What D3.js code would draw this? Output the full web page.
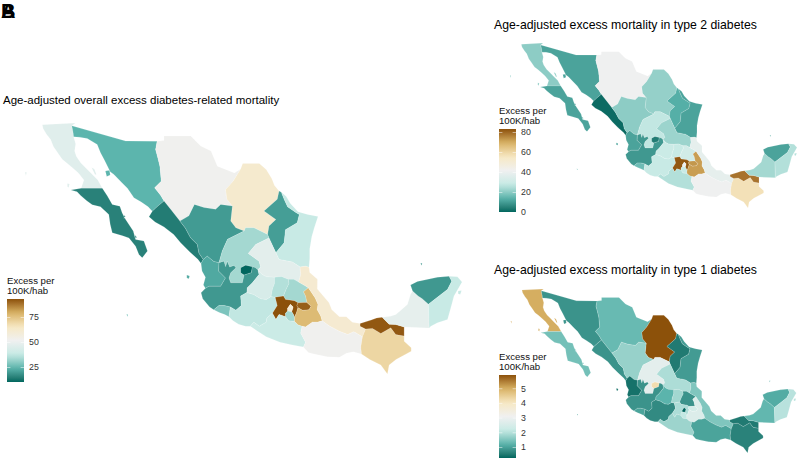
<!DOCTYPE html>
<html>
<head>
<meta charset="utf-8">
<script src="https://cdn.jsdelivr.net/npm/d3@7"></script>
<style>
body { margin: 0; background: #fff; }
svg { display: block; font-family: "Liberation Sans", Arial, sans-serif; }
.state { stroke: #fff; stroke-width: 0.15; }
.panel-title { fill: #000; }
.legend-title { font-size: 9.6px; fill: #111; }
.tick text { font-size: 8.8px; fill: #333; font-family: "Liberation Sans", Arial, sans-serif; }
</style>
</head>
<body>
<svg id="chart" width="800" height="460"></svg>
<script>
var stateCodes = ['BC', 'BCS', 'SON', 'CHI', 'COA', 'NL', 'TAM', 'SIN', 'DUR', 'ZAC', 'SLP', 'NAY', 'AGS', 'JAL', 'COL', 'MIC',
    'GTO', 'QRO', 'HID', 'MEX', 'CDMX', 'TLX', 'MOR', 'PUE', 'VER', 'GRO', 'OAX', 'CHP', 'TAB', 'CAM', 'YUC', 'QR'];

var overallExcess = [46, 15, 24, 52, 62, 20, 38, 14, 19.5, 33, 47, 22, 10, 19, 28, 37,
    43, 35, 33, 93, 60, 91, 33, 77, 61, 39, 52, 70, 92, 48, 19, 38];
var type2Excess = [20, 11, 11, 41, 21, 13, 11, 1, 20, 27, 22, 11, 4, 9, 16, 28,
    29, 28, 31, 82, 40, 73, 28, 72, 38, 25, 41, 57, 78, 23, 11, 25];
var type1Excess = [5.0, 1.4, 0.8, 1.3, 5.9, 0.5, 0.9, 0.8, 1.7, 2.8, 1.9, 0.4, 4.2, 0.8, 1.0, 0.7,
    1.2, 1.8, 0.8, 1.9, 0.25, 2.4, 2.1, 2.6, 1.5, 1.75, 1.0, 0.6, 0.5, 1.25, 1.1, 2.0];

var overallRange = [10, 93];
var type2Range = [0, 83];
var type1Range = [0.25, 5.9];
var overallTicks = [25, 50, 75];
var type2Ticks = [0, 20, 40, 60, 80];
var type1Ticks = [1, 2, 3, 4, 5];

// shared junctions of the state outlines, lon/lat
var J0 = [-114.98, 32.52], G1 = [-114.85, 31.72], B1 = [-114.3, 28.0], B2 = [-112.77, 28.0];
var J1 = [-108.8, 31.4], J2 = [-108.3, 27.07], S1 = [-109.15, 26.34], J3 = [-102.75, 29.4], J4 = [-103.35, 26.71];
var J5 = [-107.15, 25.62], J6 = [-105.62, 22.55], J7 = [-105.46, 22.84], J8 = [-102.5, 24.9], J9 = [-104.32, 22.6];
var J10 = [-105.3, 20.75], J11 = [-104.7, 19.2], J12 = [-103.5, 19.4], J13 = [-103.6, 18.7], J14 = [-102.3, 20.45];
var J15 = [-101.5, 22.1], J16 = [-100.3, 21.55], J17 = [-99.3, 21.4], J18 = [-98.55, 21.2], J19 = [-98.45, 22.3];
var J20 = [-97.8, 22.28], J21 = [-100.2, 23.33], J22 = [-100.7, 24.4], J23 = [-100.8, 24.65], J24 = [-99.97, 27.8];
var J25 = [-99.8, 27.7], J26 = [-94.1, 18.2], J27 = [-92.5, 18.65], J28 = [-90.91, 17.29], J29 = [-93.7, 17.8];
var J30 = [-93.93, 17.24], J31 = [-96.85, 18.4], J32 = [-97.85, 20.8], J33 = [-97.95, 19.72], J34 = [-98.6, 19.7];
var J35 = [-98.6, 19.35], J36 = [-99.65, 20.2], J37 = [-100.55, 20.15], J38 = [-100.25, 20.1], J39 = [-100.45, 18.95];
var J40 = [-99.5, 18.7], J41 = [-99.35, 19.1], J42 = [-99.05, 19.05], J43 = [-98.85, 18.65], J44 = [-98.85, 18.35];
var J45 = [-98.3, 18.0], J46 = [-98.2, 16.5], J47 = [-102.05, 18.0], J48 = [-94.0, 16.0], J49 = [-92.12, 14.55];
var J50 = [-90.3, 20.55], J51 = [-89.15, 19.6], J52 = [-89.1, 17.87], J53 = [-90.91, 17.95], J54 = [-87.65, 21.63];
var J56 = [-102.5, 21.71], J57 = [-101.9, 22.31];

// [state, neighbour or null for coast and frontier, line]
var borders = [
    ['BC', 'SON', [J0, [-114.88, 32.0], G1]],
    ['BC', null, [G1, [-114.7, 31.2], [-114.78, 30.7], [-114.65, 30.3], [-114.34, 29.85], [-114.0, 29.5], [-113.6, 29.1], [-113.1, 28.6], B2]],
    ['BC', 'BCS', [B2, B1]],
    ['BC', null, [B1, [-114.1, 28.6], [-114.5, 29.1], [-114.95, 29.5], [-115.3, 29.8], [-115.67, 30.09], [-115.95, 30.5], [-116.3, 31.0], [-116.52, 31.54], [-116.8, 31.9], [-117.05, 32.3], [-117.12, 32.6], [-114.72, 32.72], J0]],
    ['BCS', null, [B1, [-115.05, 27.87], [-114.6, 27.75], [-114.34, 27.48], [-113.9, 27.1], [-113.5, 26.8], [-112.9, 26.65], [-112.3, 26.1], [-112.2, 25.4], [-112.05, 24.77], [-111.3, 24.55], [-110.84, 24.4], [-110.36, 23.8], [-110.12, 23.2], [-109.88, 22.96], [-109.5, 23.45], [-109.76, 24.17], [-110.36, 24.29], [-110.53, 24.9], [-111.08, 25.74], [-111.33, 26.2], [-111.5, 26.7], [-112.05, 26.83], [-112.4, 27.43], B2]],
    ['SON', null, [J0, [-111.08, 31.42], J1]],
    ['SON', 'CHI', [J1, [-108.91, 30.8], [-108.75, 30.2], [-108.6, 29.6], [-108.5, 28.5], [-108.98, 28.03], [-108.55, 27.5], J2]],
    ['SON', 'SIN', [J2, [-108.7, 26.75], S1]],
    ['SON', null, [S1, [-109.45, 26.65], [-109.95, 27.0], [-110.48, 27.31], [-110.95, 28.0], [-111.35, 28.4], [-111.93, 29.0], [-112.2, 29.2], [-112.6, 30.0], [-112.9, 30.57], [-113.14, 31.17], [-113.86, 31.6], [-114.4, 31.7], G1]],
    ['CHI', null, [J1, [-108.3, 31.45], [-108.3, 31.78], [-106.37, 31.78], [-105.65, 31.05], [-104.9, 30.7], [-104.44, 29.6], [-103.2, 29.1], J3]],
    ['CHI', 'COA', [J3, [-103.3, 28.5], [-103.84, 27.9], [-103.75, 27.2], J4]],
    ['CHI', 'DUR', [J4, [-104.2, 26.83], [-104.56, 26.47], [-105.4, 26.6], [-106.1, 26.83], [-106.5, 26.0], J5]],
    ['CHI', 'SIN', [J5, [-107.82, 26.47], J2]],
    ['SIN', null, [S1, [-109.39, 25.93], [-108.95, 25.55], [-108.3, 25.2], [-107.6, 24.65], [-107.1, 24.05], [-106.45, 23.4], [-105.85, 22.85], J6]],
    ['SIN', 'DUR', [J5, [-106.75, 25.1], [-106.38, 24.41], [-105.89, 23.93], [-105.77, 23.3], J7]],
    ['SIN', 'NAY', [J7, J6]],
    ['DUR', 'COA', [J4, [-103.47, 25.62], [-103.1, 25.14], J8]],
    ['DUR', 'ZAC', [J8, [-103.7, 24.3], [-104.08, 23.45], J9]],
    ['DUR', 'NAY', [J7, [-105.17, 23.08], [-104.7, 22.7], J9]],
    ['NAY', 'JAL', [J9, [-104.35, 22.0], [-103.85, 21.5], [-104.2, 20.9], [-105.05, 20.9], J10]],
    ['NAY', null, [J6, [-105.55, 22.0], [-105.3, 21.55], [-105.45, 21.0], J10]],
    ['JAL', null, [J10, [-105.62, 20.43], [-105.5, 20.0], [-105.0, 19.4], J11]],
    ['JAL', 'COL', [J11, [-104.32, 19.5], [-103.95, 19.5], J12]],
    ['COL', 'MIC', [J12, [-103.55, 19.0], J13]],
    ['COL', null, [J11, [-104.3, 19.0], [-103.9, 18.85], J13]],
    ['JAL', 'MIC', [J12, [-103.1, 19.17], [-102.7, 19.5], [-102.75, 20.19], J14]],
    ['JAL', 'GTO', [J14, [-102.27, 20.8], [-101.9, 21.15], [-101.42, 21.76], J15]],
    ['JAL', 'ZAC', [J9, [-103.96, 22.72], [-103.84, 22.31], [-103.72, 22.72], [-103.55, 22.29], [-103.23, 22.41], [-103.09, 22.24], [-103.47, 21.88], [-103.6, 21.5], [-103.47, 21.15], [-102.63, 21.15], J56]],
    ['JAL', 'ZAC', [J57, [-101.7, 22.25], J15]],
    ['AGS', 'ZAC', [J56, [-102.75, 21.88], [-102.75, 22.24], [-102.39, 22.43], J57]],
    ['AGS', 'JAL', [J57, [-101.98, 21.88], J56]],
    ['COA', null, [J3, [-102.6, 29.8], [-101.4, 29.8], [-100.9, 29.35], [-100.5, 28.7], [-100.3, 28.2], J24]],
    ['COA', 'NL', [J24, [-100.1, 27.2], [-101.06, 26.35], [-100.2, 25.74], [-100.7, 25.26], J23]],
    ['COA', 'ZAC', [J8, [-102.4, 25.14], [-101.8, 25.14], J23]],
    ['NL', 'ZAC', [J23, J22]],
    ['NL', null, [J24, J25]],
    ['NL', 'TAM', [J25, [-99.6, 27.2], [-99.35, 26.65], [-98.75, 26.25], [-98.5, 26.1], [-98.65, 25.5], [-99.5, 25.0], [-99.6, 24.05], J21]],
    ['NL', 'SLP', [J21, J22]],
    ['TAM', null, [J25, [-99.45, 27.4], [-99.15, 26.9], [-98.6, 26.3], [-97.9, 26.1], [-97.15, 25.96], [-97.4, 25.2], [-97.6, 24.5], [-97.75, 23.6], [-97.75, 22.9], J20]],
    ['TAM', 'VER', [J19, [-98.05, 22.35], J20]],
    ['TAM', 'SLP', [J19, [-99.0, 22.65], [-99.97, 22.84], J21]],
    ['SLP', 'ZAC', [J22, [-101.66, 23.93], [-102.2, 23.28], [-101.42, 22.72], [-101.3, 22.3], J15]],
    ['SLP', 'GTO', [J15, [-101.2, 21.75], [-100.9, 21.6], J16]],
    ['SLP', 'QRO', [J16, [-99.8, 21.6], J17]],
    ['SLP', 'HID', [J17, [-98.9, 21.4], J18]],
    ['SLP', 'VER', [J18, [-98.4, 21.75], J19]],
    ['GTO', 'QRO', [J16, [-100.3, 21.1], [-100.45, 20.7], J37]],
    ['GTO', 'MIC', [J14, [-101.8, 20.3], [-101.3, 20.0], [-100.9, 19.95], J37]],
    ['QRO', 'MIC', [J37, J38]],
    ['QRO', 'MEX', [J38, J36]],
    ['QRO', 'HID', [J36, [-99.45, 20.7], [-99.25, 21.1], J17]],
    ['HID', 'VER', [J18, [-98.1, 20.95], J32]],
    ['HID', 'PUE', [J32, [-98.2, 20.5], [-98.05, 20.2], J33]],
    ['HID', 'TLX', [J33, [-98.2, 19.72], J34]],
    ['HID', 'MEX', [J34, [-98.85, 19.85], [-99.2, 19.9], [-99.5, 19.95], J36]],
    ['MEX', 'MIC', [J38, [-100.1, 19.5], J39]],
    ['MEX', 'GRO', [J39, [-100.2, 18.5], [-99.97, 18.86], J40]],
    ['MEX', 'MOR', [J40, [-99.5, 18.95], J41]],
    ['MEX', 'CDMX', [J41, [-99.35, 19.3], [-99.15, 19.6], [-98.95, 19.4], J42]],
    ['CDMX', 'MOR', [J41, J42]],
    ['MEX', 'MOR', [J42, [-98.95, 18.9], J43]],
    ['MEX', 'PUE', [J43, [-98.7, 19.0], J35]],
    ['MEX', 'TLX', [J35, [-98.68, 19.5], J34]],
    ['PUE', 'TLX', [J33, [-97.65, 19.45], [-97.8, 19.2], [-98.25, 19.15], J35]],
    ['MOR', 'PUE', [J43, J44]],
    ['MOR', 'GRO', [J40, [-99.3, 18.4], J44]],
    ['PUE', 'GRO', [J44, [-98.6, 18.1], J45]],
    ['PUE', 'OAX', [J45, [-98.05, 17.95], [-97.56, 18.3], [-97.2, 18.3], J31]],
    ['PUE', 'VER', [J31, [-96.95, 18.75], [-97.2, 19.2], [-97.15, 19.6], [-97.35, 20.05], [-97.65, 20.5], J32]],
    ['GRO', 'OAX', [J45, [-98.4, 17.5], [-98.05, 16.85], J46]],
    ['GRO', null, [J46, [-99.0, 16.65], [-99.9, 16.85], [-100.9, 17.25], [-101.6, 17.7], J47]],
    ['GRO', 'MIC', [J39, [-100.85, 18.6], [-100.9, 18.3], [-101.4, 18.0], [-101.8, 18.3], J47]],
    ['MIC', null, [J13, [-103.3, 18.4], [-102.9, 18.15], [-102.4, 18.0], J47]],
    ['VER', null, [J20, [-97.75, 21.9], [-97.19, 21.4], [-97.2, 20.7], [-96.35, 19.7], [-96.15, 19.2], [-95.6, 18.7], [-95.1, 18.7], [-94.66, 18.3], J26]],
    ['VER', 'TAB', [J26, [-94.1, 18.0], J29]],
    ['VER', 'CHP', [J29, J30]],
    ['VER', 'OAX', [J30, [-94.55, 17.6], [-95.0, 17.4], [-95.62, 17.65], [-96.3, 18.0], J31]],
    ['OAX', 'CHP', [J30, [-94.05, 16.5], J48]],
    ['OAX', null, [J48, [-94.6, 16.15], [-95.1, 16.05], [-95.6, 15.75], [-96.47, 15.8], [-97.43, 16.0], [-97.85, 16.1], J46]],
    ['CHP', null, [J48, [-93.4, 15.6], [-92.6, 15.2], J49, [-92.0, 15.2], [-91.5, 15.6], [-90.4, 16.2], [-90.4, 16.45], [-90.91, 16.92], J28]],
    ['CHP', 'TAB', [J28, [-91.52, 17.4], [-91.88, 17.89], [-92.6, 17.48], [-93.2, 17.85], J29]],
    ['TAB', null, [J26, [-93.3, 18.45], [-92.9, 18.6], J27]],
    ['TAB', 'CAM', [J27, [-92.0, 18.15], [-91.52, 18.13], J53]],
    ['TAB', null, [J53, J28]],
    ['CAM', null, [J27, [-91.9, 18.72], [-91.5, 18.86], [-90.67, 19.58], [-90.45, 20.3], J50]],
    ['CAM', 'YUC', [J50, [-89.9, 20.2], [-89.6, 20.0], J51]],
    ['CAM', 'QR', [J51, J52]],
    ['CAM', null, [J52, J53]],
    ['YUC', null, [J50, [-90.45, 21.0], [-89.95, 21.25], [-88.5, 21.55], J54]],
    ['YUC', 'QR', [J54, [-87.46, 21.27], [-87.77, 20.67], [-88.5, 20.1], J51]],
    ['QR', null, [J54, [-87.05, 21.58], [-86.72, 21.2], [-87.3, 20.2], [-87.53, 19.34], [-87.77, 18.5], [-88.5, 18.25], [-88.98, 18.0], J52]]
];

var islands = [
    ['BC', [[-118.37, 29.15], [-118.25, 29.15], [-118.3, 28.9]]],
    ['BC', [[-115.3, 28.35], [-115.15, 28.3], [-115.2, 28.05], [-115.3, 28.1]]],
    ['BC', [[-113.55, 29.5], [-113.35, 29.4], [-113.2, 29.0], [-113.3, 29.0]]],
    ['SON', [[-112.55, 29.25], [-112.25, 29.3], [-112.2, 28.95], [-112.45, 28.85]]],
    ['BCS', [[-111.2, 26.05], [-111.1, 25.95], [-111.2, 25.8]]],
    ['BCS', [[-110.35, 24.6], [-110.28, 24.4], [-110.42, 24.45]]],
    ['NAY', [[-106.65, 21.72], [-106.45, 21.65], [-106.5, 21.45], [-106.65, 21.5]]],
    ['COL', [[-111.02, 18.87], [-110.9, 18.85], [-110.95, 18.7]]],
    ['QR', [[-87.0, 20.55], [-86.75, 20.6], [-86.85, 20.3], [-87.0, 20.35]]],
    ['YUC', [[-89.72, 22.56], [-89.6, 22.56], [-89.66, 22.4]]]
];

var panels = [
    { title: 'Age-adjusted overall excess diabetes-related mortality', titleX: 3, titleY: 104, titleSize: 11.5, values: overallExcess,
        extent: [[25, 122], [462, 375]], range: overallRange, ticks: overallTicks, legendX: 7, legendTop: 299 },
    { title: 'Age-adjusted excess mortality in type 2 diabetes', titleX: 494, titleY: 28.5, titleSize: 12.25, values: type2Excess,
        extent: [[510, 43], [797, 208]], range: type2Range, ticks: type2Ticks, legendX: 499, legendTop: 129 },
    { title: 'Age-adjusted excess mortality in type 1 diabetes', titleX: 494, titleY: 274, titleSize: 12.25, values: type1Excess,
        extent: [[510, 289], [797, 453]], range: type1Range, ticks: type1Ticks, legendX: 499, legendTop: 375 }
];

var legendWidth = 17;
var legendHeight = 83;
var svg = d3.select('#chart');

function samePoint(a, b) {
    return a[0] === b[0] && a[1] === b[1];
}

// chain the border lines of one state into a closed ring
function buildRing(code) {
    var lines = borders.filter(function(b) {
        return b[0] === code || b[1] === code;
    }).map(function(b) {
        return b[2];
    });
    var ring = lines.shift().slice();

    while(lines.length) {
        var end = ring[ring.length - 1];
        var idx = lines.findIndex(function(l) {
            return samePoint(l[0], end) || samePoint(l[l.length - 1], end);
        });
        if(idx < 0) throw new Error('open ring ' + code);
        var line = lines.splice(idx, 1)[0];
        if(!samePoint(line[0], end)) line = line.slice().reverse();
        ring = ring.concat(line.slice(1));
    }
    return ring;
}

var features = stateCodes.map(function(code, i) {
    var polys = [[buildRing(code)]];
    islands.forEach(function(d) {
        if(d[0] === code) polys.push([d[1].concat([d[1][0]])]);
    });
    return {
        type: 'Feature',
        properties: { code: code, index: i },
        geometry: { type: 'MultiPolygon', coordinates: polys }
    };
});
var collection = { type: 'FeatureCollection', features: features };

function colorScale(range) {
    var stops = d3.range(7).map(function(i) {
        return range[0] + (range[1] - range[0]) * i / 6;
    });
    var colors = d3.schemeBrBG[7].slice().reverse();
    colors[3] = '#f0f0f0';
    return d3.scaleLinear()
        .domain(stops)
        .range(colors)
        .interpolate(d3.interpolateLab);
}

function drawMap(panel, color) {
    var projection = d3.geoIdentity().reflectY(true).fitExtent(panel.extent, collection);
    var path = d3.geoPath(projection);

    svg.append('g')
        .selectAll('path')
        .data(features)
        .join('path')
        .classed('state', true)
        .attr('d', path)
        .attr('fill', function(d) {
            return color(panel.values[d.properties.index]);
        });
}

function drawLegend(panel, color, i) {
    var id = 'legend-gradient-' + i;
    var y = d3.scaleLinear()
        .domain(panel.range)
        .range([panel.legendTop + legendHeight, panel.legendTop]);

    var gradient = svg.append('defs')
        .append('linearGradient')
        .attr('id', id)
        .attr('x1', 0).attr('x2', 0).attr('y1', 1).attr('y2', 0);

    gradient.selectAll('stop')
        .data(d3.range(0, 1.001, 0.05))
        .join('stop')
        .attr('offset', function(d) { return d; })
        .attr('stop-color', function(d) {
            return color(panel.range[0] + d * (panel.range[1] - panel.range[0]));
        });

    var g = svg.append('g');

    g.append('rect')
        .attr('x', panel.legendX)
        .attr('y', panel.legendTop)
        .attr('width', legendWidth)
        .attr('height', legendHeight)
        .attr('fill', 'url(#' + id + ')');

    var axis = g.append('g')
        .attr('transform', 'translate(' + (panel.legendX + legendWidth) + ',0)')
        .call(d3.axisRight(y).tickValues(panel.ticks).tickFormat(d3.format('d')).tickSize(0).tickPadding(5));
    axis.select('.domain').remove();

    axis.selectAll('.tick').each(function() {
        var tick = d3.select(this);
        tick.append('line').attr('x1', -legendWidth).attr('x2', -legendWidth + 3.4).attr('stroke', '#fff').attr('stroke-width', 0.5);
        tick.append('line').attr('x1', -3.4).attr('x2', 0).attr('stroke', '#fff').attr('stroke-width', 0.5);
    });

    g.selectAll('.legend-title')
        .data(['Excess per', '100K/hab'])
        .join('text')
        .classed('legend-title', true)
        .attr('x', panel.legendX)
        .attr('y', function(d, j) { return panel.legendTop - 15.5 + j * 10; })
        .text(function(d) { return d; });
}

panels.forEach(function(panel, i) {
    var color = colorScale(panel.range);
    drawMap(panel, color);
    drawLegend(panel, color, i);
    svg.append('text')
        .classed('panel-title', true)
        .attr('x', panel.titleX)
        .attr('y', panel.titleY)
        .attr('font-size', panel.titleSize)
        .text(panel.title);
});

svg.selectAll('.panel-tag')
    .data(['A', 'B'])
    .join('text')
    .classed('panel-tag', true)
    .attr('x', 1)
    .attr('y', 18)
    .attr('font-size', 20)
    .attr('font-weight', 'bold')
    .text(function(d) { return d; });
</script>
</body>
</html>
